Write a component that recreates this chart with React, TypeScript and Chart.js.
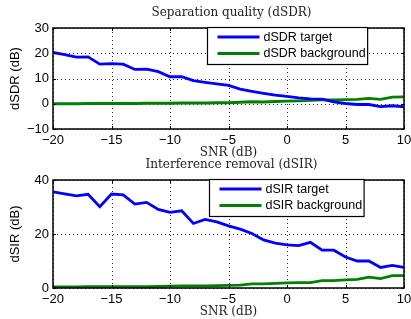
import React, { useEffect, useRef } from "react";
import { Chart, registerables } from "chart.js";

Chart.register(...registerables);

const snrDb = [-20, -19, -18, -17, -16, -15, -14, -13, -12, -11, -10, -9, -8, -7, -6, -5, -4, -3, -2, -1, 0, 1, 2, 3, 4, 5, 6, 7, 8, 9, 10];
const dsdrTarget = [20.3, 19.5, 18.5, 18.6, 15.7, 15.9, 15.7, 13.6, 13.7, 12.7, 10.7, 10.7, 9.2, 8.5, 7.9, 7.3, 5.8, 4.9, 4.1, 3.4, 2.9, 2.3, 1.9, 1.8, 0.7, 0.1, -0.3, -0.3, -1.1, -0.8, -1.2];
const dsdrBackground = [0.0, 0.0, 0.0, 0.1, 0.1, 0.1, 0.1, 0.1, 0.2, 0.2, 0.2, 0.3, 0.3, 0.3, 0.4, 0.4, 0.6, 0.8, 0.7, 0.9, 1.0, 1.1, 1.3, 1.5, 1.5, 1.6, 1.7, 2.1, 1.7, 2.6, 2.7];
const dsirTarget = [35.6, 34.9, 34.1, 34.7, 30.1, 34.8, 34.5, 31.1, 31.7, 29.1, 28.0, 28.6, 23.9, 25.4, 24.5, 23.0, 21.8, 20.2, 17.8, 16.6, 16.0, 15.7, 16.9, 14.0, 14.0, 11.5, 10.0, 10.0, 7.6, 8.4, 7.6];
const dsirBackground = [0.4, 0.4, 0.4, 0.5, 0.5, 0.5, 0.5, 0.5, 0.5, 0.6, 0.7, 0.8, 0.8, 0.8, 0.9, 1.0, 1.1, 1.5, 1.5, 1.7, 1.9, 2.0, 2.0, 2.7, 2.7, 3.0, 3.2, 4.0, 3.5, 4.6, 4.6];

const xTickValues = [-20, -15, -10, -5, 0, 5, 10];
const dsdrTickValues = [-10, 0, 10, 20, 30];
const dsirTickValues = [0, 20, 40];

const dsdrLabels = ["dSDR target", "dSDR background"];
const dsirLabels = ["dSIR target", "dSIR background"];

const SANS = '"Liberation Sans", Arial, Helvetica, sans-serif';
const SERIF = '"DejaVu Serif", serif';

const fmt = (v: number | string) => String(v).replace("-", "\u2212");

type Panel = {
  title: string;
  yLabel: string;
  labels: string[];
  target: number[];
  background: number[];
  yTicks: number[];
  padTop: number;
  padBottom: number;
  legendRight: number;
};

function decorPlugin(p: Panel) {
  return {
    id: "decor",
    beforeDatasetsDraw(chart: any) {
      const ctx = chart.ctx as CanvasRenderingContext2D;
      const a = chart.chartArea;
      const xs = chart.scales.x;
      const ys = chart.scales.y;
      ctx.save();
      ctx.strokeStyle = "rgba(0,0,0,0.85)";
      ctx.lineWidth = 1;
      ctx.setLineDash([1, 3]);
      ctx.beginPath();
      xs.ticks.forEach((t: any) => {
        const px = Math.round(xs.getPixelForValue(t.value)) + 0.5;
        ctx.moveTo(px, a.bottom);
        ctx.lineTo(px, a.top);
      });
      ys.ticks.forEach((t: any) => {
        const py = Math.round(ys.getPixelForValue(t.value)) + 0.5;
        ctx.moveTo(a.left, py);
        ctx.lineTo(a.right, py);
      });
      ctx.stroke();
      ctx.restore();
    },
    afterDraw(chart: any) {
      const ctx = chart.ctx as CanvasRenderingContext2D;
      const a = chart.chartArea;
      const xs = chart.scales.x;
      const ys = chart.scales.y;
      ctx.save();
      // inner tick marks
      ctx.strokeStyle = "#000";
      ctx.lineWidth = 1;
      ctx.beginPath();
      xs.ticks.forEach((t: any) => {
        const px = Math.round(xs.getPixelForValue(t.value)) + 0.5;
        ctx.moveTo(px, a.bottom);
        ctx.lineTo(px, a.bottom - 3);
        ctx.moveTo(px, a.top);
        ctx.lineTo(px, a.top + 3);
      });
      ys.ticks.forEach((t: any) => {
        const py = Math.round(ys.getPixelForValue(t.value)) + 0.5;
        ctx.moveTo(a.left, py);
        ctx.lineTo(a.left + 3, py);
        ctx.moveTo(a.right, py);
        ctx.lineTo(a.right - 3, py);
      });
      ctx.stroke();
      // box
      ctx.lineWidth = 1.5;
      ctx.strokeRect(a.left, a.top, a.right - a.left, a.bottom - a.top);

      // legend
      ctx.font = `12.5px ${SANS}`;
      const ds = chart.data.datasets;
      const maxW = Math.max(...ds.map((d: any) => ctx.measureText(d.label).width));
      const boxW = 10 + 42 + 4 + maxW + 2;
      const boxH = 37;
      const bx = Math.round(a.right - p.legendRight - boxW) + 0.5;
      const by = Math.round(a.top - 1) + 0.5;
      ctx.fillStyle = "#fff";
      ctx.fillRect(bx, by, boxW, boxH);
      ctx.lineWidth = 1.2;
      ctx.strokeStyle = "#000";
      ctx.strokeRect(bx, by, boxW, boxH);
      ds.forEach((d: any, i: number) => {
        const ry = by + 9.5 + i * 16.5;
        ctx.strokeStyle = d.borderColor;
        ctx.lineWidth = d.borderWidth;
        ctx.beginPath();
        ctx.moveTo(bx + 10, ry);
        ctx.lineTo(bx + 52, ry);
        ctx.stroke();
        ctx.fillStyle = "#000";
        ctx.textAlign = "left";
        ctx.textBaseline = "middle";
        ctx.fillText(d.label, bx + 56, ry + 0.5);
      });

      // title and x label (serif)
      const cx = (a.left + a.right) / 2;
      ctx.fillStyle = "#222";
      ctx.font = `12px ${SERIF}`;
      ctx.textAlign = "center";
      ctx.textBaseline = "middle";
      ctx.fillText(p.title, cx + 3, a.top - 15);
      ctx.fillText("SNR (dB)", cx, a.bottom + 24);

      // y label
      ctx.font = `13px ${SANS}`;
      ctx.fillStyle = "#000";
      ctx.translate(15, (a.top + a.bottom) / 2);
      ctx.rotate(-Math.PI / 2);
      ctx.fillText(p.yLabel, 0, 0);
      ctx.restore();
    },
  };
}

function buildConfig(p: Panel): any {
  const mk = (vals: number[]) => snrDb.map((x, i) => ({ x, y: vals[i] }));
  const tickFont = { family: SANS, size: 13 };
  return {
    type: "line",
    data: {
      datasets: [
        { label: p.labels[0], data: mk(p.target), borderColor: "#0000ff", backgroundColor: "#0000ff", borderWidth: 2.8, pointRadius: 0, tension: 0, fill: false },
        { label: p.labels[1], data: mk(p.background), borderColor: "#008000", backgroundColor: "#008000", borderWidth: 2.8, pointRadius: 0, tension: 0, fill: false },
      ],
    },
    options: {
      responsive: false,
      animation: false,
      events: [],
      layout: { padding: { top: p.padTop, bottom: p.padBottom, left: 0, right: 7 } },
      plugins: { legend: { display: false }, title: { display: false }, tooltip: { enabled: false } },
      scales: {
        x: {
          type: "linear",
          min: snrDb[0],
          max: snrDb[snrDb.length - 1],
          afterBuildTicks: (s: any) => { s.ticks = xTickValues.map((v) => ({ value: v })); },
          afterFit: (s: any) => { s.height = 31; s.paddingRight = 0; s.paddingLeft = 0; },
          grid: { display: false, drawTicks: false },
          border: { display: false },
          ticks: { padding: 4, color: "#000", font: tickFont, callback: (v: any) => fmt(v), maxRotation: 0, autoSkip: false },
        },
        y: {
          type: "linear",
          min: p.yTicks[0],
          max: p.yTicks[p.yTicks.length - 1],
          afterBuildTicks: (s: any) => { s.ticks = p.yTicks.map((v) => ({ value: v })); },
          afterFit: (s: any) => { s.width = 53; s.paddingTop = 0; s.paddingBottom = 0; },
          grid: { display: false, drawTicks: false },
          border: { display: false },
          ticks: { padding: 4, color: "#000", font: tickFont, callback: (v: any) => fmt(v), autoSkip: false },
        },
      },
    },
    plugins: [decorPlugin(p)],
  };
}

const topPanel: Panel = {
  title: "Separation quality (dSDR)",
  yLabel: "dSDR (dB)",
  labels: dsdrLabels,
  target: dsdrTarget,
  background: dsdrBackground,
  yTicks: dsdrTickValues,
  padTop: 28,
  padBottom: 159,
  legendRight: 37,
};

const bottomPanel: Panel = {
  title: "Interference removal (dSIR)",
  yLabel: "dSIR (dB)",
  labels: dsirLabels,
  target: dsirTarget,
  background: dsirBackground,
  yTicks: dsirTickValues,
  padTop: 180,
  padBottom: 0,
  legendRight: 40,
};

export default function App() {
  const topRef = useRef<HTMLCanvasElement | null>(null);
  const botRef = useRef<HTMLCanvasElement | null>(null);
  useEffect(() => {
    const c1 = new Chart(topRef.current as HTMLCanvasElement, buildConfig(topPanel));
    const c2 = new Chart(botRef.current as HTMLCanvasElement, buildConfig(bottomPanel));
    return () => {
      c1.destroy();
      c2.destroy();
    };
  }, []);
  const cs: React.CSSProperties = { position: "absolute", left: 0, top: 0, width: 411, height: 319 };
  return (
    <div style={{ position: "fixed", left: 0, top: 0, width: 411, height: 319, background: "#fff" }}>
      <canvas ref={topRef} width={411} height={319} style={cs} />
      <canvas ref={botRef} width={411} height={319} style={cs} />
    </div>
  );
}
